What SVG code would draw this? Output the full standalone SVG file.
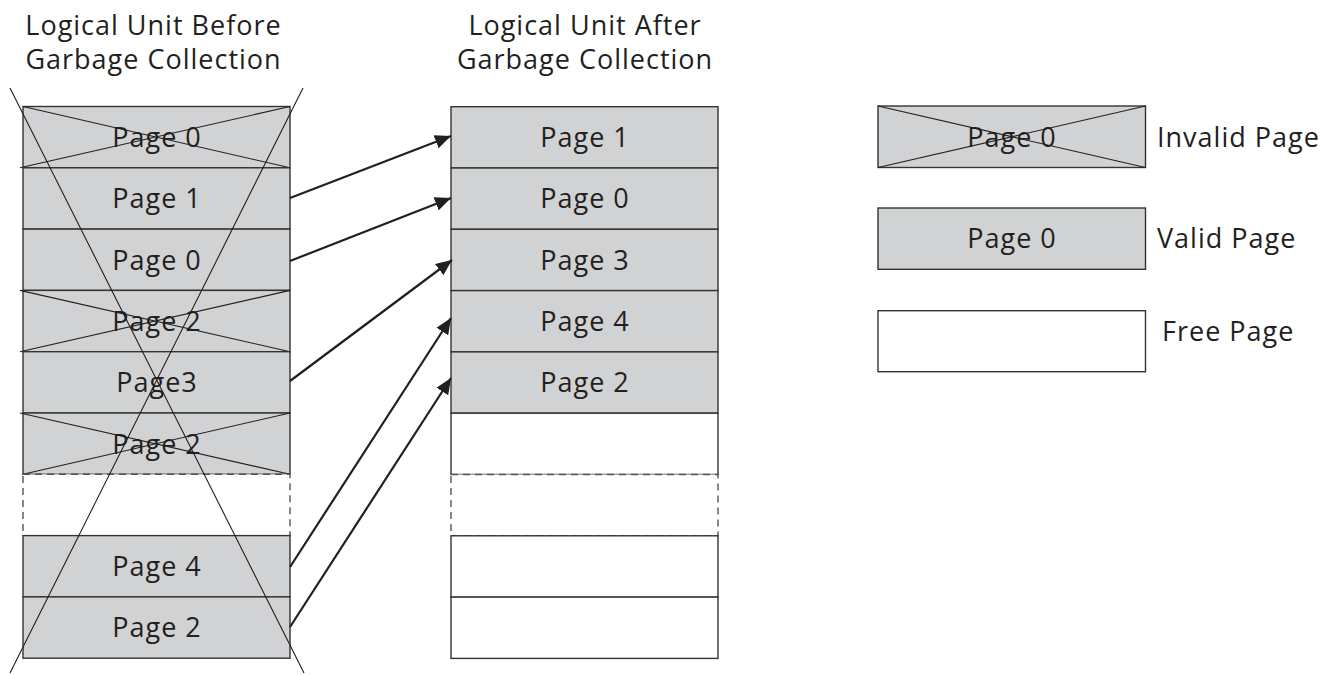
<svg xmlns="http://www.w3.org/2000/svg" width="1333" height="675" viewBox="0 0 1333 675">
<style>
  text { font-family: "Open Sans", "Noto Sans", "DejaVu Sans", sans-serif; font-size: 27px; fill: #231f20; letter-spacing: 1px; }
  .c { text-anchor: middle; }
  .valid { fill: #d1d2d4; stroke: #333333; stroke-width: 1.4; }
  .free { fill: #ffffff; stroke: #333333; stroke-width: 1.4; }
  .dash { fill: #ffffff; stroke: #555555; stroke-width: 1.4; stroke-dasharray: 7 5; }
  .x { stroke: #231f20; stroke-width: 1.1; fill: none; }
  .conn { stroke: #231f20; stroke-width: 2.2; fill: none; marker-end: url(#ah); }
</style>
<defs>
  <marker id="ah" markerUnits="userSpaceOnUse" markerWidth="18" markerHeight="14" refX="16" refY="7" orient="auto">
    <path d="M0,0 L16,7 L0,14 z" fill="#231f20"/>
  </marker>
</defs>
<rect width="1333" height="675" fill="#ffffff"/>

<g id="title-before">
  <text class="c" x="153.5" y="35">Logical Unit Before</text>
  <text class="c" x="153.5" y="69">Garbage Collection</text>
</g>
<g id="title-after">
  <text class="c" x="585" y="35">Logical Unit After</text>
  <text class="c" x="585" y="69">Garbage Collection</text>
</g>

<g id="before">
  <g id="b0"><rect class="valid" x="23" y="106.5" width="267" height="61.3"/><text class="c" x="157" y="147">Page 0</text><path class="x" d="M23,106.5 L290,167.8 M20,167.8 L290,106.5"/></g>
  <g id="b1"><rect class="valid" x="23" y="167.8" width="267" height="61.3"/><text class="c" x="157" y="208.3">Page 1</text></g>
  <g id="b2"><rect class="valid" x="23" y="229.1" width="267" height="61.3"/><text class="c" x="157" y="269.6">Page 0</text></g>
  <g id="b3"><rect class="valid" x="23" y="290.4" width="267" height="61.3"/><text class="c" x="157" y="330.9">Page 2</text><path class="x" d="M20,290.4 L290,351.7 M20,351.7 L290,290.4"/></g>
  <g id="b4"><rect class="valid" x="23" y="351.7" width="267" height="61.3"/><text class="c" x="157" y="392.2">Page3</text></g>
  <g id="b5"><rect class="valid" x="23" y="413" width="267" height="61.3"/><text class="c" x="157" y="453.5">Page 2</text><path class="x" d="M20,413 L290,474.3 M23,474.3 L290,413"/></g>
  <g id="b6"><rect class="dash" x="23" y="474.3" width="267" height="61.3"/></g>
  <g id="b7"><rect class="valid" x="23" y="535.6" width="267" height="61.3"/><text class="c" x="157" y="576.1">Page 4</text></g>
  <g id="b8"><rect class="valid" x="23" y="596.9" width="267" height="61.3"/><text class="c" x="157" y="637.4">Page 2</text></g>
  <path class="x" d="M10,88 L304,673 M303,88 L10,673"/>
</g>

<g id="after">
  <g id="a0"><rect class="valid" x="451" y="106.7" width="267" height="61.3"/><text class="c" x="585" y="147">Page 1</text></g>
  <g id="a1"><rect class="valid" x="451" y="168" width="267" height="61.3"/><text class="c" x="585" y="208.3">Page 0</text></g>
  <g id="a2"><rect class="valid" x="451" y="229.3" width="267" height="61.3"/><text class="c" x="585" y="269.6">Page 3</text></g>
  <g id="a3"><rect class="valid" x="451" y="290.6" width="267" height="61.3"/><text class="c" x="585" y="330.9">Page 4</text></g>
  <g id="a4"><rect class="valid" x="451" y="351.9" width="267" height="61.3"/><text class="c" x="585" y="392.2">Page 2</text></g>
  <g id="a5"><rect class="free" x="451" y="413.2" width="267" height="61.3"/></g>
  <g id="a6"><rect class="dash" x="451" y="474.5" width="267" height="61.3"/></g>
  <g id="a7"><rect class="free" x="451" y="535.8" width="267" height="61.3"/></g>
  <g id="a8"><rect class="free" x="451" y="597.1" width="267" height="61.3"/></g>
</g>

<g id="connectors">
  <line class="conn" x1="290" y1="198" x2="451" y2="136"/>
  <line class="conn" x1="290" y1="261" x2="451" y2="198"/>
  <line class="conn" x1="290" y1="381" x2="452" y2="260"/>
  <line class="conn" x1="290" y1="567" x2="451" y2="318"/>
  <line class="conn" x1="290" y1="627" x2="451" y2="378"/>
</g>

<g id="legend-invalid">
  <rect class="valid" x="878" y="106" width="267.5" height="61.5"/>
  <text class="c" x="1012" y="146.7">Page 0</text>
  <path class="x" d="M878,106 L1145.5,167.5 M878,167.5 L1145.5,106"/>
  <text x="1157" y="146.7">Invalid Page</text>
</g>
<g id="legend-valid">
  <rect class="valid" x="878" y="208" width="267.5" height="61.3"/>
  <text class="c" x="1012" y="248">Page 0</text>
  <text x="1157" y="248">Valid Page</text>
</g>
<g id="legend-free">
  <rect class="free" x="878" y="310.7" width="267.5" height="61"/>
  <text x="1162" y="341">Free Page</text>
</g>
</svg>
